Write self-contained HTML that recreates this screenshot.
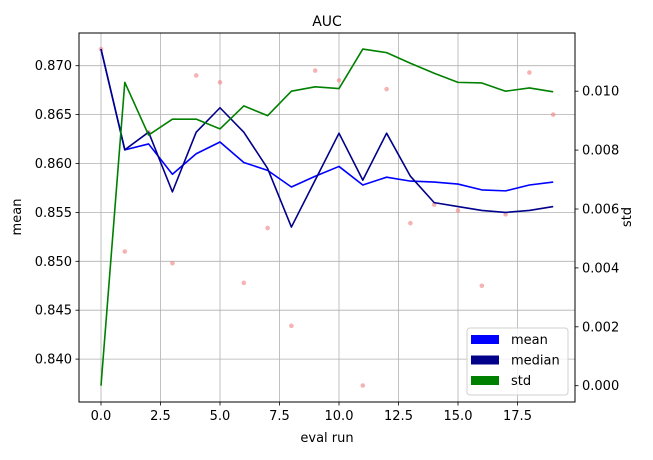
<!DOCTYPE html>
<html><head><meta charset="utf-8"><style>
body{margin:0;background:#fff}
svg{font-family:"DejaVu Sans","Liberation Sans",sans-serif}
text{fill:#000}
</style></head><body>
<svg id="chart" width="653" height="455"></svg>
<script>
const runs=[0,1,2,3,4,5,6,7,8,9,10,11,12,13,14,15,16,17,18,19];
const meanVals=[0.8717,0.8614,0.8620,0.8589,0.8610,0.8622,0.8601,0.8593,0.8576,0.8587,0.8597,0.8578,0.8586,0.8582,0.8581,0.8579,0.8573,0.8572,0.8578,0.8581];
const medianVals=[0.8717,0.8614,0.8632,0.8571,0.8632,0.8657,0.8632,0.8595,0.8535,0.8583,0.8631,0.8583,0.8631,0.8587,0.8560,0.8556,0.8552,0.8550,0.8552,0.8556];
const stdVals=[0.0000,0.0103,0.00851,0.00905,0.00905,0.00872,0.0095,0.00917,0.0100,0.01015,0.01009,0.01143,0.01131,0.01095,0.01061,0.0103,0.01028,0.0100,0.01011,0.00998];
const pointVals=[0.8717,0.8510,0.8632,0.8498,0.8690,0.8683,0.8478,0.8534,0.8434,0.8695,0.8685,0.8373,0.8676,0.8539,0.8558,0.8552,0.8475,0.8548,0.8693,0.8650];
const xTicks=[0,2.5,5,7.5,10,12.5,15,17.5];
const xTickLabels=["0.0","2.5","5.0","7.5","10.0","12.5","15.0","17.5"];
const yTicks=[0.840,0.845,0.850,0.855,0.860,0.865,0.870];
const yTickLabels=["0.840","0.845","0.850","0.855","0.860","0.865","0.870"];
const y2Ticks=[0,0.002,0.004,0.006,0.008,0.010];
const y2TickLabels=["0.000","0.002","0.004","0.006","0.008","0.010"];

const L=79,R=575,T=33,B=402;
const X=v=>101+v*23.8;
const Y=v=>65.7+(0.870-v)*9780;
const Y2=v=>385.7-v*29450;
const svg=document.getElementById('chart');
const NS='http://www.w3.org/2000/svg';
function mk(tag,attrs,parent){const e=document.createElementNS(NS,tag);for(const k in attrs)e.setAttribute(k,attrs[k]);(parent||svg).appendChild(e);return e;}

// grid
xTicks.forEach((t,i)=>{
 const g=mk('line',{x1:X(t),x2:X(t),y1:T,y2:B,stroke:'#b0b0b0','stroke-width':0.8});
 
 
 const tk=mk('line',{x1:X(t),x2:X(t),y1:B,y2:B+3.5,stroke:'#000','stroke-width':0.8});
 
 
 const tx=mk('text',{x:X(t),y:B+18,'text-anchor':'middle','font-size':13});
 tx.textContent=xTickLabels[i];
 
 
});
yTicks.forEach((t,i)=>{
 const g=mk('line',{x1:L,x2:R,y1:Y(t),y2:Y(t),stroke:'#b0b0b0','stroke-width':0.8});
 
 
 const tk=mk('line',{x1:L-3.5,x2:L,y1:Y(t),y2:Y(t),stroke:'#000','stroke-width':0.8});
 
 
 const tx=mk('text',{x:L-7,y:Y(t)+4.5,'text-anchor':'end','font-size':13});
 tx.textContent=yTickLabels[i];
 
 
});
y2Ticks.forEach((t,i)=>{
 const tk=mk('line',{x1:R,x2:R+3.5,y1:Y2(t),y2:Y2(t),stroke:'#000','stroke-width':0.8});
 
 
 const tx=mk('text',{x:R+7,y:Y2(t)+4.5,'font-size':13});
 tx.textContent=y2TickLabels[i];
 
 
});

function line(vals,fy,color,name){
 const p=mk('polyline',{points:vals.map((v,i)=>X(runs[i])+','+fy(v)).join(' '),fill:'none',stroke:color,'stroke-width':1.6,'stroke-linejoin':'round'});
 
 
}
pointVals.forEach((v,i)=>{
 const c=mk('circle',{cx:X(runs[i]),cy:Y(v),r:2.3,fill:'#f08080','fill-opacity':0.6});
 
 
});
line(meanVals,Y,'#0000ff','mean-line');
line(medianVals,Y,'#00008b','median-line');
line(stdVals,Y2,'#008000','std-line');

const frame=mk('rect',{x:L,y:T,width:R-L,height:B-T,fill:'none',stroke:'#000','stroke-width':1});



const title=mk('text',{x:(L+R)/2,y:26,'text-anchor':'middle','font-size':14});
title.textContent='AUC';


const xl=mk('text',{x:(L+R)/2,y:442,'text-anchor':'middle','font-size':13});
xl.textContent='eval run';


const yl=mk('text',{x:0,y:0,'text-anchor':'middle','font-size':13,transform:'translate(21,217) rotate(-90)'});
yl.textContent='mean';


const y2l=mk('text',{x:0,y:0,'text-anchor':'middle','font-size':13,transform:'translate(631,217) rotate(-90)'});
y2l.textContent='std';



// legend
const lg=mk('g',{});


mk('rect',{x:467,y:328,width:101,height:67,rx:3,fill:'#fff','fill-opacity':0.8,stroke:'#d0d0d0'},lg);
[['mean','#0000ff'],['median','#00008b'],['std','#008000']].forEach((e,i)=>{
 const g=mk('g',{},lg);
 
 
 mk('rect',{x:471,y:335+i*20.5,width:28,height:9,fill:e[1]},g);
 const t=mk('text',{x:511,y:344+i*20.5,'font-size':13},g);
 t.textContent=e[0];
});
</script>
</body></html>
